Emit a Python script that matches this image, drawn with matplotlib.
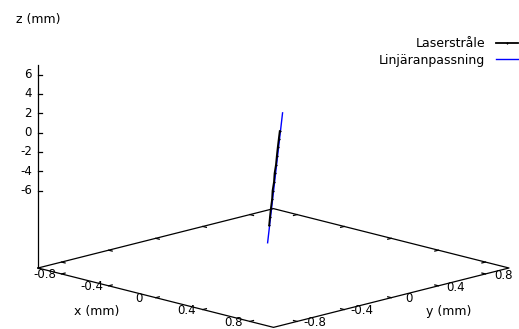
import numpy as np
import matplotlib
matplotlib.use('Agg')
import matplotlib.pyplot as plt
from mpl_toolkits.mplot3d import proj3d

plt.rcParams['font.family'] = ['DejaVu Sans']
plt.rcParams['font.size'] = 9

# ---- данные (мм) ----
laser_z = [-5.2, -4.3, -3.4, -2.5, -1.6, -0.7, 0.2, 1.1, 2.0, 2.9, 3.8, 4.6]
laser_x = [0.698, 0.701, 0.706, 0.710, 0.713, 0.719, 0.723, 0.729, 0.735, 0.739, 0.744, 0.750]
laser_y = [-0.735, -0.731, -0.728, -0.722, -0.721, -0.715, -0.714, -0.708, -0.707, -0.703, -0.699, -0.697]

fit_z = [-7.0, 6.5]
fit_x = [0.690, 0.764]
fit_y = [-0.740, -0.687]

x_ticks = [-0.8, -0.4, 0, 0.4, 0.8]
y_ticks = [-0.8, -0.4, 0, 0.4, 0.8]
z_ticks = [6, 4, 2, 0, -2, -4, -6]

xy_lim = (-1, 1)
z_lim = (-7, 7)
ticslevel = 0.5
z_base = z_lim[0] - ticslevel * (z_lim[1] - z_lim[0])

W, H = 519, 329
fig = plt.figure(figsize=(W / 100, H / 100), dpi=100)
ax = fig.add_axes([0, 0, 1, 1], projection='3d', proj_type='ortho')
ax.view_init(elev=14.6, azim=-45)
ax.set_box_aspect((1, 1, 0.63))
ax.set_axis_off()
ax.computed_zorder = False

lo, hi = xy_lim
k = dict(color='black', lw=0.9, clip_on=False)

# рамка основания и ось z
ax.plot([lo, hi, hi, lo, lo], [lo, lo, hi, hi, lo], [z_base] * 5, **k)
ax.plot([lo, lo], [lo, lo], [z_base, z_lim[1]], **k)

# засечки и подписи (подписи ставим потом, после подгонки)
labels = []
d = 0.03
for t in x_ticks:
    ax.plot([t, t], [lo, lo + d], [z_base, z_base], **k)
    ax.plot([t, t], [hi, hi - d], [z_base, z_base], **k)
    labels.append((t - 0.02, -1.12, z_base, f'{t:g}', 'center', 2))
for t in y_ticks:
    ax.plot([hi, hi - d], [t, t], [z_base, z_base], **k)
    ax.plot([lo, lo + d], [t, t], [z_base, z_base], **k)
    labels.append((1.13, t + 0.02, z_base, f'{t:g}', 'center', 2))
for t in z_ticks:
    ax.plot([lo, lo + 0.017], [lo, lo + 0.017], [t, t], **k)
    labels.append((lo - 0.026, lo - 0.026, t, f'{t:g}', 'right', 0))

# данные: сначала прямая, потом луч поверх
ax.plot(fit_x, fit_y, fit_z, color='blue', lw=1, label='Linjäranpassning',
        clip_on=False, zorder=3)
ax.plot(laser_x, laser_y, laser_z, color='black', lw=1.3, marker='+', ms=2,
        mew=0.8, label='Laserstråle', clip_on=False, zorder=4)

ax.set_xlim(*xy_lim)
ax.set_ylim(*xy_lim)
ax.set_zlim(z_base, z_lim[1])

h, l = ax.get_legend_handles_labels()
ax.legend(h[::-1], l[::-1], loc='upper right', bbox_to_anchor=(518 / W, 1 - 37 / H),
          bbox_transform=fig.transFigure, frameon=False, markerfirst=False,
          handlelength=1.8, handletextpad=0.8, labelspacing=0.3,
          borderaxespad=0, borderpad=0)


# подгонка масштаба и положения под углы основания
def to_px(x, y, z):
    xs, ys, _ = proj3d.proj_transform(np.array([x]), np.array([y]), np.array([z]), ax.get_proj())
    return ax.transData.transform((xs[0], ys[0]))


fig.canvas.draw()
pL = to_px(lo, lo, z_base)
pR = to_px(hi, hi, z_base)
f = (509 - 38) / (pR[0] - pL[0])
ax.set_box_aspect((1, 1, 0.63), zoom=f)
fig.canvas.draw()
pL = to_px(lo, lo, z_base)
ax.set_position([(38 - pL[0]) / W, (H - 268 - pL[1]) / H, 1, 1])
fig.canvas.draw()

for x, y, z, s, ha, up in labels:
    px, py = to_px(x, y, z)
    fig.text(px / W, (py + up) / H, s, ha=ha, va='center', fontsize=8.5)
fig.text(97 / W, 1 - 312 / H, 'x (mm)', ha='center', va='center')
fig.text(449 / W, 1 - 312 / H, 'y (mm)', ha='center', va='center')
fig.text(16 / W, 1 - 19 / H, 'z (mm)', ha='left', va='center')

fig.savefig('out.png', dpi=100)
